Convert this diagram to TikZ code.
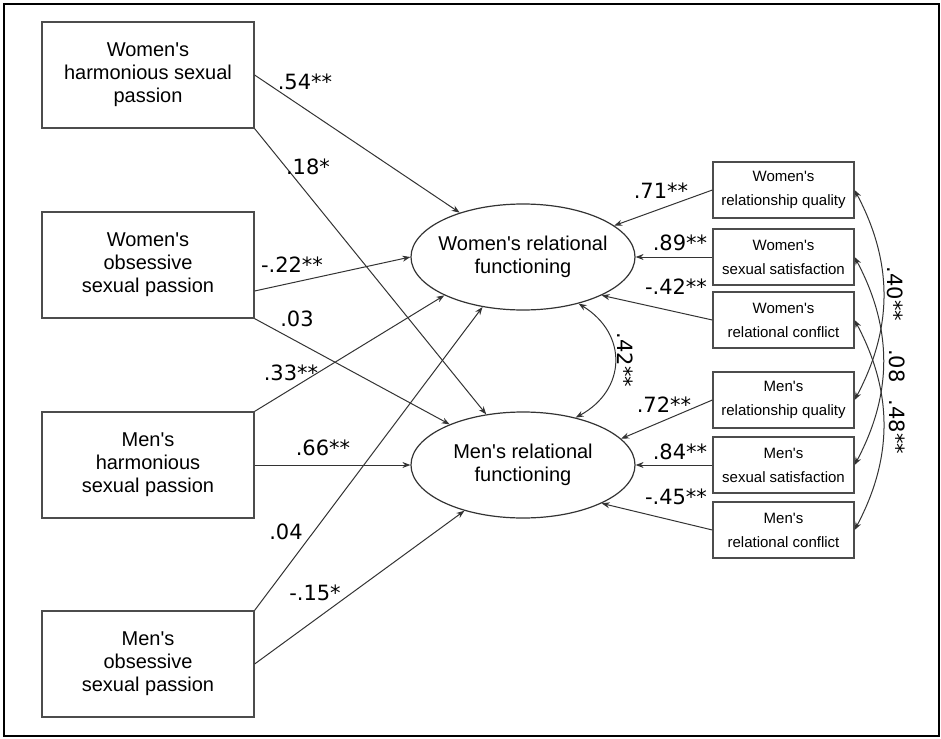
\documentclass[tikz,border=0pt]{standalone}
\usepackage{fontspec}
\setmainfont{Liberation Sans}
\newfontfamily\coeffont{DejaVu Sans}
\usetikzlibrary{shapes,arrows.meta}
\newcommand{\ap}{\textquotesingle}

\begin{document}
\begin{tikzpicture}[x=0.5pt,y=-0.5pt,
  passion/.style={draw=black!70, line width=0.6pt, minimum width=106pt, minimum height=53pt, align=center, font=\fontsize{10}{11.5}\selectfont},
  latent/.style={ellipse, draw=black!80, line width=0.6pt, minimum width=112pt, minimum height=53pt, inner sep=0pt},
  outcome/.style={draw=black!70, line width=0.6pt, minimum width=70.5pt, minimum height=28pt, align=center, font=\fontsize{7.5}{12}\selectfont},
  path/.style={draw=black!80, line width=0.5pt, -{Stealth[length=4pt,width=3pt]}},
  cov/.style={draw=black!80, line width=0.5pt, {Stealth[length=4pt,width=3pt]}-{Stealth[length=4pt,width=3pt]}},
  coef/.style={font=\coeffont\fontsize{10.5}{12}\selectfont, inner sep=0pt}]
\useasboundingbox (0,0) rectangle (941,738);
\draw[line width=1.3pt] (4,4) rectangle (939,736);

% predictors
\node(whp) [passion] at (148,75) {Women\ap s\\harmonious sexual\\passion};
\node(wop) [passion] at (148,265) {Women\ap s\\obsessive\\sexual passion};
\node(mhp) [passion] at (148,465) {Men\ap s\\harmonious\\sexual passion};
\node(mop) [passion] at (148,664) {Men\ap s\\obsessive\\sexual passion};

% relational functioning
\node(wrf) [latent, label={[align=center,font=\fontsize{10}{11.5}\selectfont]center:Women\ap s relational\\functioning}] at (523,257) {};
\node(mrf) [latent, label={[align=center,font=\fontsize{10}{11.5}\selectfont]center:Men\ap s relational\\functioning}] at (523,465) {};

% indicators
\node(wrq) [outcome] at (783.5,190) {Women\ap s\\relationship quality};
\node(wss) [outcome] at (783.5,257) {Women\ap s\\sexual satisfaction};
\node(wrc) [outcome] at (783.5,320) {Women\ap s\\relational conflict};
\node(mrq) [outcome] at (783.5,400) {Men\ap s\\relationship quality};
\node(mss) [outcome] at (783.5,465) {Men\ap s\\sexual satisfaction};
\node(mrc) [outcome] at (783.5,530) {Men\ap s\\relational conflict};

% paths
\draw[path] (whp.east) -- (wrf.145);
\draw[path] (whp.south east) -- (mrf.126);
\draw[path] ([yshift=-13pt]wop.east) -- (wrf.west);
\draw[path] (wop.south east) -- (mrf.151);
\draw[path] (mhp.north east) -- (wrf.206);
\draw[path] (mhp.east) -- (mrf.west);
\draw[path] (mop.north east) -- (wrf.231);
\draw[path] (mop.east) -- (mrf.218);

\draw[path] (wrq.west) -- (wrf.19);
\draw[path] (wss.west) -- (wrf.east);
\draw[path] (wrc.west) -- (wrf.-26);
\draw[path] (mrq.west) -- (mrf.15);
\draw[path] (mss.west) -- (mrf.east);
\draw[path] (mrc.west) -- (mrf.-26);

% covariances
\draw[cov] (wrf.-40) to[bend left=60, looseness=1.3] (mrf.42);
\draw[cov] (wrq.east) to[bend left=28] (mrq.east);
\draw[cov] (wss.east) to[bend left=28] (mss.east);
\draw[cov] (wrc.east) to[bend left=28] (mrc.east);

% coefficients
\node(c1) [coef] at (305,82) {.54**};
\node(c2) [coef] at (308,167) {.18*};
\node(c3) [coef] at (292,265) {-.22**};
\node(c4) [coef] at (297,319) {.03};
\node(c5) [coef] at (291,373) {.33**};
\node(c6) [coef] at (323,448) {.66**};
\node(c7) [coef] at (286,532) {.04};
\node(c8) [coef] at (315,593) {-.15*};
\node(c9) [coef] at (661,191) {.71**};
\node(c10) [coef] at (680,243) {.89**};
\node(c11) [coef] at (676,287) {-.42**};
\node(c12) [coef] at (664,405) {.72**};
\node(c13) [coef] at (680,452) {.84**};
\node(c14) [coef] at (676,497) {-.45**};
\node(c15) [coef, rotate=-90] at (625,360) {.42**};
\node(c16) [coef, rotate=-90] at (895,294) {.40**};
\node(c17) [coef, rotate=-90] at (897,366) {.08};
\node(c18) [coef, rotate=-90] at (897,427) {.48**};
\end{tikzpicture}
\end{document}
